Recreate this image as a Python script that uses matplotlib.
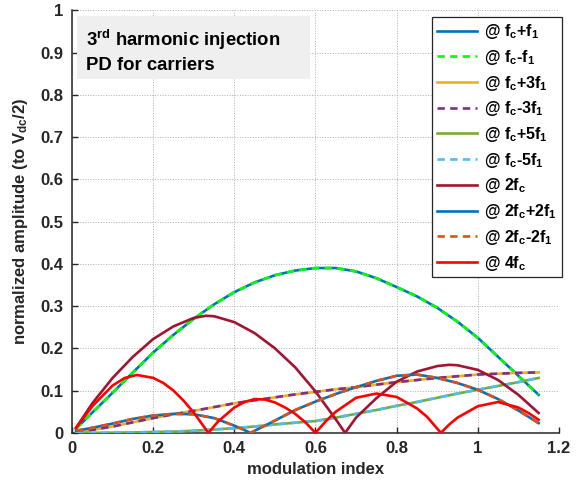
import matplotlib
matplotlib.use("Agg")
import matplotlib.pyplot as plt
from matplotlib.patches import Rectangle

plt.rcParams["font.family"] = ["Liberation Sans", "DejaVu Sans"]
plt.rcParams["font.weight"] = "bold"
plt.rcParams["mathtext.fontset"] = "custom"
plt.rcParams["mathtext.rm"] = "Liberation Sans:bold"
plt.rcParams["mathtext.it"] = "Liberation Sans:bold"
plt.rcParams["mathtext.bf"] = "Liberation Sans:bold"
plt.rcParams["mathtext.default"] = "rm"

# --- values ---
m_side = [0.01, 0.05, 0.1, 0.15, 0.2, 0.25, 0.3, 0.35, 0.4, 0.45, 0.5, 0.55,
          0.6, 0.65, 0.7, 0.75, 0.8, 0.85, 0.9, 0.95, 1.0, 1.05, 1.1, 1.15]
fc_f1 = [0.01, 0.048, 0.095, 0.143, 0.19, 0.232, 0.27, 0.304, 0.333, 0.356, 0.373, 0.384,
         0.39, 0.39, 0.382, 0.366, 0.345, 0.323, 0.296, 0.263, 0.225, 0.18, 0.135, 0.09]
fc_3f1 = [0.002, 0.007, 0.015, 0.025, 0.035, 0.044, 0.052, 0.061, 0.07, 0.077, 0.084, 0.091,
          0.097, 0.103, 0.108, 0.114, 0.12, 0.125, 0.13, 0.134, 0.138, 0.14, 0.142, 0.143]
fc_5f1 = [0.0, 0.0, 0.0005, 0.001, 0.002, 0.003, 0.005, 0.008, 0.011, 0.015, 0.02, 0.024,
          0.028, 0.036, 0.045, 0.054, 0.064, 0.073, 0.083, 0.093, 0.102, 0.111, 0.12, 0.13]

m_2fc = [0.01, 0.05, 0.1, 0.15, 0.2, 0.25, 0.3, 0.33, 0.35, 0.4, 0.45, 0.5, 0.55, 0.6,
         0.65, 0.673, 0.7, 0.75, 0.8, 0.85, 0.9, 0.93, 0.95, 1.0, 1.05, 1.1, 1.15]
h_2fc = [0.012, 0.07, 0.13, 0.18, 0.222, 0.252, 0.272, 0.277, 0.276, 0.262, 0.236, 0.2, 0.155, 0.098,
         0.032, 0.0, 0.036, 0.082, 0.121, 0.145, 0.158, 0.161, 0.16, 0.149, 0.125, 0.09, 0.047]

m_2fc2 = [0.01, 0.05, 0.1, 0.15, 0.2, 0.25, 0.3, 0.35, 0.4, 0.44, 0.5, 0.55,
          0.6, 0.65, 0.7, 0.75, 0.8, 0.85, 0.9, 0.95, 1.0, 1.05, 1.1, 1.15]
h_2fc2 = [0.005, 0.012, 0.022, 0.033, 0.041, 0.045, 0.044, 0.035, 0.017, 0.0, 0.029, 0.054,
          0.074, 0.092, 0.108, 0.123, 0.135, 0.138, 0.13, 0.118, 0.102, 0.08, 0.053, 0.023]

m_4fc = [0.01, 0.05, 0.1, 0.13, 0.16, 0.2, 0.225, 0.25, 0.275, 0.3, 0.336,
         0.36, 0.4, 0.425, 0.45, 0.475, 0.5, 0.525, 0.55, 0.575, 0.6,
         0.625, 0.65, 0.7, 0.75, 0.8, 0.85, 0.875, 0.909,
         0.93, 0.95, 1.0, 1.05, 1.1, 1.125, 1.15]
h_4fc = [0.012, 0.063, 0.112, 0.13, 0.137, 0.13, 0.118, 0.1, 0.076, 0.048, 0.0,
         0.027, 0.06, 0.073, 0.08, 0.079, 0.072, 0.06, 0.045, 0.025, 0.0,
         0.027, 0.05, 0.083, 0.093, 0.085, 0.058, 0.038, 0.0,
         0.02, 0.036, 0.063, 0.073, 0.06, 0.047, 0.031]

labels = [r"@ f$_c$+f$_1$", r"@ f$_c$-f$_1$", r"@ f$_c$+3f$_1$", r"@ f$_c$-3f$_1$",
          r"@ f$_c$+5f$_1$", r"@ f$_c$-5f$_1$", r"@ 2f$_c$", r"@ 2f$_c$+2f$_1$",
          r"@ 2f$_c$-2f$_1$", r"@ 4f$_c$"]

fig = plt.figure(figsize=(5.81, 4.88), dpi=100)
ax = fig.add_axes([0.124, 0.113, 0.838, 0.866])

lw = 1.9
dash = (2.8, 2.0)
series = [
    (m_side, fc_f1, "#0072BD", "-"),
    (m_side, fc_f1, "#00FF00", "--"),
    (m_side, fc_3f1, "#EDB120", "-"),
    (m_side, fc_3f1, "#7E2F8E", "--"),
    (m_side, fc_5f1, "#77AC30", "-"),
    (m_side, fc_5f1, "#4DBEEE", "--"),
    (m_2fc, h_2fc, "#A2142F", "-"),
    (m_2fc2, h_2fc2, "#0072BD", "-"),
    (m_2fc2, h_2fc2, "#D95319", "--"),
    (m_4fc, h_4fc, "#FF0000", "-"),
]
for (x, y, c, ls), lab in zip(series, labels):
    line, = ax.plot(x, y, color=c, lw=lw, ls=ls, label=lab, zorder=3)
    if ls == "--":
        line.set_dashes(dash)

ax.set_xlim(0, 1.2)
ax.set_ylim(0, 1)
ax.set_xticks([0, 0.2, 0.4, 0.6, 0.8, 1, 1.2])
ax.set_xticklabels(["0", "0.2", "0.4", "0.6", "0.8", "1", "1.2"])
ax.set_yticks([i / 10 for i in range(11)])
ax.set_yticklabels(["0", "0.1", "0.2", "0.3", "0.4", "0.5", "0.6", "0.7", "0.8", "0.9", "1"])
ax.tick_params(direction="in", length=4, width=1, labelsize=12, colors="#262626", pad=6)
ax.grid(True, ls=":", color="#b0b0b0", lw=0.7)
ax.spines["top"].set_visible(False)
ax.spines["right"].set_visible(False)
for s in ("left", "bottom"):
    ax.spines[s].set_linewidth(1.1)
    ax.spines[s].set_color("#262626")

ax.set_xlabel("modulation index", fontsize=12, fontweight="bold", color="#262626", labelpad=4)
ax.set_ylabel(r"normalized amplitude (to V$_{dc}$/2)", fontsize=12, fontweight="bold",
              color="#262626", labelpad=8)

# annotation box
ax.add_patch(Rectangle((0.010, 0.837), 0.479, 0.149, transform=ax.transAxes,
                       facecolor="#efefef", edgecolor="none", zorder=2.5))
ax.text(0.029, 0.915, r"3$^{rd}$ harmonic injection", transform=ax.transAxes,
        fontsize=13.3, fontweight="bold", va="baseline", zorder=4)
ax.text(0.029, 0.858, "PD for carriers", transform=ax.transAxes,
        fontsize=13.3, fontweight="bold", va="baseline", zorder=4)

leg = ax.legend(loc="upper right", bbox_to_anchor=(1.006, 0.983), fontsize=11.5,
                fancybox=False, framealpha=1, edgecolor="#262626", handlelength=2.5,
                labelspacing=0.42, borderpad=0.3, handletextpad=0.45, borderaxespad=0)
leg.get_frame().set_linewidth(0.9)
leg.set_zorder(5)

fig.savefig("out.png", dpi=100)
